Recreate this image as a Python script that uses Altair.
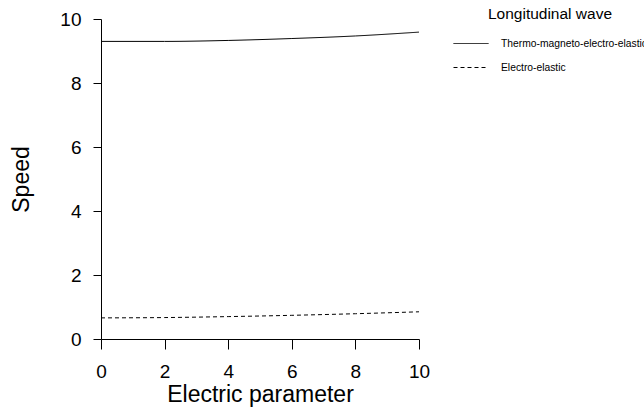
import altair as alt
import pandas as pd

x_vals = [0, 2, 4, 6, 8, 10]
thermo = [9.30, 9.30, 9.33, 9.39, 9.47, 9.59]
electro = [0.66, 0.67, 0.70, 0.74, 0.79, 0.85]
series_names = ["Thermo-magneto-electro-elastic", "Electro-elastic"]

rows = []
for x, y in zip(x_vals, thermo):
    rows.append({"x": x, "y": y, "s": series_names[0]})
for x, y in zip(x_vals, electro):
    rows.append({"x": x, "y": y, "s": series_names[1]})
df = pd.DataFrame(rows)

font = "Liberation Sans"

chart = alt.Chart(df).mark_line(color="black", strokeWidth=1, interpolate="monotone").encode(
    x=alt.X("x:Q", scale=alt.Scale(domain=[0, 10], nice=False, zero=False),
            axis=alt.Axis(values=[0, 2, 4, 6, 8, 10], title="Electric parameter", grid=False,
                          tickSize=10, labelPadding=13, labelFontSize=19, titleFontSize=23,
                          titlePadding=2, labelFlush=False, titleFontWeight="normal")),
    y=alt.Y("y:Q", scale=alt.Scale(domain=[0, 10], nice=False, zero=False),
            axis=alt.Axis(values=[0, 2, 4, 6, 8, 10], title="Speed", grid=False,
                          tickSize=8, labelPadding=12, labelFontSize=19, titleFontSize=23,
                          titlePadding=26, labelFlush=False, titleFontWeight="normal")),
    strokeDash=alt.StrokeDash("s:N", scale=alt.Scale(domain=series_names, range=[[1, 0], [4, 3]]),
                              legend=alt.Legend(title="Longitudinal wave", orient="none",
                                                legendX=352, legendY=-12, symbolType="stroke",
                                                symbolSize=1225, symbolStrokeColor="black",
                                                symbolStrokeWidth=1,
                                                labelFontSize=10.3, titleFontSize=15.5,
                                                titleFontWeight="normal", titleAnchor="middle",
                                                titlePadding=3, rowPadding=-14, labelOffset=12,
                                                labelLimit=400, labelColor="black", titleColor="black")),
).properties(
    width=318, height=320,
    padding={"left": 101, "top": 19, "right": 225, "bottom": 70},
    autosize=alt.AutoSizeParams(type="none"),
).configure_view(strokeWidth=0, stroke="transparent").configure_axis(
    domainColor="black", tickColor="black", labelColor="black", titleColor="black",
    labelFont=font, titleFont=font, domainWidth=1, tickWidth=1,
).configure_legend(labelFont=font, titleFont=font)

chart.save("out.html", embed_options={"renderer": "svg", "actions": False})
